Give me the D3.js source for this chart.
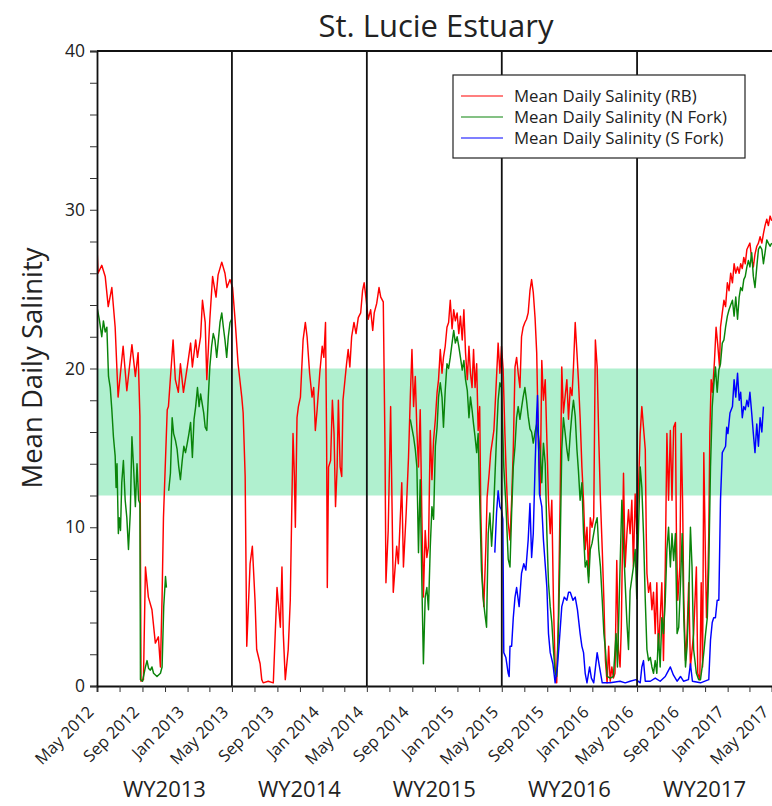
<!DOCTYPE html>
<html><head><meta charset="utf-8">
<script src="https://cdn.jsdelivr.net/npm/d3@7"></script>
<style>
body{margin:0;background:#fff}
svg{display:block}
text{font-family:"Open Sans",Lato,"DejaVu Sans",sans-serif;fill:#222}
</style>
</head><body>
<svg id="chart" width="772" height="806"></svg>
<script>
// ---- data (decimal year, month based; value = mean daily salinity) ----
const title = "St. Lucie Estuary";
const yLabel = "Mean Daily Salinity";
const seriesNames = ["Mean Daily Salinity (RB)", "Mean Daily Salinity (N Fork)", "Mean Daily Salinity (S Fork)"];
const seriesColors = ["#ff0000", "#0a840a", "#0000ff"];
const waterYears = ["WY2013", "WY2014", "WY2015", "WY2016", "WY2017"];
const wyBoundaries = ["2012-05-01", "2013-05-01", "2014-05-01", "2015-05-01", "2016-05-01", "2017-05-01"];
const targetBand = [12, 20];
const yDomain = [0, 40];
const yTickValues = [0, 2, 4, 6, 8, 10, 12, 14, 16, 18, 20, 22, 24, 26, 28, 30, 32, 34, 36, 38, 40];
const yTickLabels = [0, 10, 20, 30, 40];
const xDomain = ["2012-05-01", "2017-05-01"];

const rb = [
[2012.333,27.7],[2012.341,26.0],[2012.368,26.5],[2012.393,25.8],[2012.415,23.9],[2012.442,25.1],[2012.467,22.6],[2012.489,18.2],[2012.526,21.4],[2012.553,18.6],[2012.590,21.5],[2012.615,19.5],[2012.635,21.0],[2012.648,17.0],[2012.656,0.3],[2012.674,0.4],[2012.689,7.5],[2012.711,5.6],[2012.738,4.8],[2012.763,2.7],[2012.785,3.1],[2012.800,1.2],[2012.812,5.6],[2012.822,10.6],[2012.850,17.4],[2012.859,17.6],[2012.894,21.8],[2012.911,19.3],[2012.933,18.5],[2012.948,20.3],[2012.970,18.5],[2012.998,20.1],[2013.022,21.6],[2013.035,20.1],[2013.059,21.8],[2013.072,20.7],[2013.096,22.0],[2013.111,24.3],[2013.133,22.9],[2013.146,19.3],[2013.170,23.1],[2013.190,25.8],[2013.215,24.5],[2013.230,25.9],[2013.257,26.7],[2013.281,26.0],[2013.296,25.1],[2013.319,25.6],
[2013.338,25.1],[2013.356,23.1],[2013.378,20.3],[2013.405,18.2],[2013.415,17.2],[2013.430,13.2],[2013.442,2.5],[2013.467,7.7],[2013.484,8.8],[2013.504,5.4],[2013.516,2.3],[2013.541,1.4],[2013.553,0.4],[2013.563,0.2],[2013.600,0.3],[2013.637,0.2],[2013.664,6.2],[2013.689,3.7],[2013.701,7.5],[2013.711,3.3],[2013.726,0.4],[2013.748,2.3],[2013.763,5.4],[2013.783,15.9],[2013.793,13.2],[2013.800,10.0],[2013.812,16.9],[2013.822,17.6],[2013.837,18.2],[2013.857,21.8],[2013.874,22.9],[2013.887,22.0],[2013.906,19.7],[2013.924,18.2],[2013.936,18.8],[2013.948,16.1],[2013.961,17.4],[2013.980,19.7],[2013.998,21.4],[2014.010,20.7],[2014.022,22.9],[2014.030,15.5],[2014.035,6.2],[2014.044,13.8],[2014.059,14.2],[2014.072,18.0],[2014.084,15.9],[2014.096,11.3],[2014.109,13.8],[2014.119,18.0],[2014.133,13.8],[2014.146,13.2],[2014.156,18.0],[2014.183,20.3],[2014.195,21.2],[2014.207,20.1],[2014.220,22.0],[2014.237,22.9],[2014.252,22.2],[2014.269,23.2],[2014.287,23.5],[2014.301,24.9],[2014.313,25.4],[2014.326,24.5],
[2014.343,23.1],[2014.361,23.7],[2014.376,22.4],[2014.387,23.5],[2014.405,24.1],[2014.422,25.1],[2014.435,24.5],[2014.454,24.2],[2014.467,15.0],[2014.474,6.5],[2014.491,9.8],[2014.509,17.6],[2014.528,5.9],[2014.553,8.8],[2014.565,7.7],[2014.590,12.8],[2014.602,7.5],[2014.622,10.9],[2014.639,14.4],[2014.652,18.2],[2014.664,21.2],[2014.676,17.6],[2014.689,19.5],[2014.701,16.1],[2014.713,13.8],[2014.726,17.4],[2014.738,10.9],[2014.750,5.6],[2014.763,9.8],[2014.775,8.1],[2014.787,8.8],[2014.800,16.1],[2014.812,13.0],[2014.824,15.5],[2014.837,16.8],[2014.850,18.5],[2014.861,19.3],[2014.874,21.2],[2014.887,19.7],[2014.898,20.7],[2014.911,21.4],[2014.924,22.6],[2014.936,22.9],[2014.948,24.3],[2014.961,22.5],[2014.973,23.7],[2014.985,23.0],[2014.998,23.5],[2015.010,22.2],[2015.022,23.3],[2015.035,21.8],[2015.047,23.7],[2015.059,21.0],[2015.072,19.3],[2015.084,21.4],[2015.096,19.7],[2015.109,18.8],[2015.121,21.2],[2015.133,18.8],[2015.146,20.3],[2015.158,16.1],[2015.170,17.6],[2015.178,11.0],[2015.190,6.7],[2015.200,5.0],[2015.215,8.8],[2015.224,11.9],[2015.239,13.4],[2015.250,14.7],[2015.264,15.5],[2015.274,16.1],[2015.289,18.6],[2015.306,21.6],[2015.319,19.7],[2015.331,21.4],
[2015.343,20.0],[2015.356,15.9],[2015.368,12.8],[2015.380,10.3],[2015.393,9.2],[2015.405,11.7],[2015.417,14.9],[2015.430,20.1],[2015.442,20.7],[2015.454,19.7],[2015.467,18.8],[2015.479,22.0],[2015.491,22.6],[2015.504,22.9],[2015.516,23.1],[2015.528,23.5],[2015.541,24.9],[2015.553,25.6],[2015.565,24.8],[2015.578,23.2],[2015.590,21.0],[2015.602,15.5],[2015.615,12.0],[2015.627,20.5],[2015.639,18.0],[2015.652,19.3],[2015.664,15.5],[2015.676,11.7],[2015.689,9.6],[2015.701,11.7],[2015.713,5.4],[2015.726,1.2],[2015.738,0.2],[2015.750,4.3],[2015.763,11.7],[2015.775,20.1],[2015.787,17.2],[2015.800,18.3],[2015.812,19.3],[2015.824,16.8],[2015.837,18.8],[2015.850,18.3],[2015.861,20.1],[2015.874,22.9],[2015.887,21.0],[2015.898,19.3],[2015.911,16.9],[2015.924,13.8],[2015.936,11.7],[2015.948,8.6],[2015.961,10.0],[2015.973,6.9],[2015.985,10.6],[2015.998,10.0],[2016.010,10.6],[2016.022,21.8],[2016.035,20.1],[2016.047,15.5],[2016.059,11.7],[2016.072,8.6],[2016.084,5.4],[2016.096,1.6],[2016.109,0.2],[2016.121,2.5],[2016.133,0.3],[2016.146,1.2],[2016.158,0.5],[2016.170,0.8],[2016.183,7.9],[2016.195,2.3],[2016.207,1.2],[2016.216,3.7],[2016.232,13.4],[2016.244,7.5],[2016.257,9.6],[2016.269,11.1],[2016.281,9.6],[2016.294,11.7],[2016.306,7.5],[2016.319,12.1],[2016.331,9.6],
[2016.343,12.3],[2016.356,15.9],[2016.368,17.6],[2016.380,16.3],[2016.393,14.9],[2016.400,9.6],[2016.405,7.1],[2016.417,5.9],[2016.430,6.5],[2016.442,4.8],[2016.454,5.9],[2016.467,3.3],[2016.479,6.5],[2016.491,2.3],[2016.504,4.3],[2016.516,6.5],[2016.528,1.6],[2016.541,7.5],[2016.553,15.9],[2016.565,11.7],[2016.578,16.1],[2016.590,11.7],[2016.602,16.3],[2016.615,16.6],[2016.622,9.6],[2016.632,5.4],[2016.647,7.5],[2016.657,15.9],[2016.667,11.7],[2016.676,5.4],[2016.689,1.6],[2016.701,3.3],[2016.713,6.5],[2016.726,1.2],[2016.750,3.3],[2016.770,7.5],[2016.780,0.8],[2016.795,0.4],[2016.805,6.5],[2016.815,1.2],[2016.824,14.7],[2016.837,7.5],[2016.844,4.3],[2016.852,6.0],[2016.861,9.6],[2016.869,15.9],[2016.879,19.3],[2016.889,18.5],[2016.904,20.5],[2016.916,22.6],[2016.928,21.5],[2016.941,20.1],[2016.948,22.6],[2016.961,23.5],[2016.973,24.3],[2016.985,23.9],[2016.998,25.4],[2017.010,24.9],[2017.022,26.0],[2017.035,25.4],[2017.047,26.6],[2017.059,26.0],[2017.072,26.4],[2017.084,26.0],[2017.096,26.6],[2017.109,26.3],[2017.121,27.0],[2017.133,26.6],[2017.146,27.5],[2017.158,27.7],[2017.170,27.9],[2017.183,26.9],[2017.195,26.4],[2017.207,27.2],[2017.220,27.7],[2017.232,27.9],[2017.244,28.3],[2017.257,27.9],[2017.269,28.5],[2017.281,29.0],[2017.294,29.4],[2017.306,29.0],[2017.319,29.6],[2017.331,29.3]
];

const nFork = [
[2012.333,23.9],[2012.350,23.1],[2012.368,22.0],[2012.380,23.0],[2012.393,22.3],[2012.405,22.6],[2012.417,19.5],[2012.430,18.8],[2012.442,17.4],[2012.454,15.7],[2012.467,14.5],[2012.474,12.5],[2012.481,14.0],[2012.491,9.6],[2012.498,10.6],[2012.507,9.8],[2012.516,12.8],[2012.528,14.2],[2012.541,11.7],[2012.553,10.6],[2012.565,8.6],[2012.578,10.9],[2012.590,15.7],[2012.602,13.8],[2012.615,11.3],[2012.627,14.0],[2012.639,11.7],[2012.648,11.5],[2012.652,0.4],[2012.667,0.3],[2012.689,1.2],[2012.701,1.6],[2012.713,1.1],[2012.726,1.0],[2012.738,1.2],[2012.750,0.8],[2012.775,0.6],[2012.800,0.8],[2012.812,1.2],[2012.824,5.0],[2012.837,6.9],[2012.844,6.2],
[2012.852,null],
[2012.861,12.3],[2012.874,13.4],[2012.887,16.9],[2012.898,15.9],[2012.911,15.5],[2012.924,14.9],[2012.936,13.8],[2012.948,13.0],[2012.961,14.2],[2012.973,15.1],[2012.985,14.7],[2012.998,15.3],[2013.010,15.9],[2013.022,16.6],[2013.035,14.4],[2013.047,16.8],[2013.059,17.6],[2013.072,18.8],[2013.084,17.6],[2013.096,18.4],[2013.121,17.2],[2013.133,16.3],[2013.146,16.1],[2013.158,18.2],[2013.170,20.1],[2013.183,21.4],[2013.195,22.2],[2013.207,21.8],[2013.220,20.7],[2013.232,21.8],[2013.244,22.9],[2013.257,23.5],[2013.269,22.6],[2013.281,21.8],[2013.294,20.7],[2013.306,22.0],[2013.319,22.9],[2013.331,23.1],
[2013.5,null],
[2014.652,16.8],[2014.676,15.7],[2014.689,14.9],[2014.701,13.8],[2014.713,8.4],[2014.726,13.0],[2014.738,6.7],[2014.750,1.4],[2014.763,5.6],[2014.775,6.2],[2014.787,4.8],[2014.800,8.8],[2014.812,11.3],[2014.824,10.5],[2014.837,15.1],[2014.850,16.3],[2014.861,18.2],[2014.874,19.1],[2014.887,18.2],[2014.898,16.3],[2014.911,18.6],[2014.924,20.3],[2014.936,20.0],[2014.948,20.7],[2014.961,21.6],[2014.973,22.4],[2014.985,21.6],[2014.998,22.0],[2015.010,21.4],[2015.022,20.7],[2015.035,19.9],[2015.047,20.5],[2015.059,19.3],[2015.072,18.6],[2015.084,16.9],[2015.096,18.2],[2015.109,17.4],[2015.121,16.5],[2015.133,15.7],[2015.146,14.7],[2015.158,15.9],[2015.170,11.9],[2015.183,7.3],[2015.195,5.6],[2015.207,4.6],[2015.220,3.7],[2015.232,9.6],[2015.244,10.9],[2015.257,8.8],[2015.269,10.5],[2015.281,13.0],[2015.294,15.7],[2015.306,18.0],[2015.319,19.1],[2015.331,18.8],
[2015.348,13.8],[2015.363,11.5],[2015.380,8.0],[2015.393,7.5],[2015.405,10.9],[2015.417,13.8],[2015.430,15.1],[2015.442,16.9],[2015.454,17.6],[2015.467,16.8],[2015.479,17.5],[2015.491,18.2],[2015.504,18.8],[2015.516,18.0],[2015.528,17.0],[2015.541,16.2],[2015.553,16.0],[2015.565,15.3],[2015.578,16.0],[2015.590,16.5],[2015.602,15.8],[2015.615,14.8],[2015.627,12.8],[2015.639,15.3],[2015.652,14.0],[2015.664,9.6],[2015.676,6.5],[2015.689,5.0],[2015.701,4.0],[2015.713,2.3],[2015.726,0.8],[2015.738,0.6],[2015.750,3.3],[2015.763,8.6],[2015.775,14.9],[2015.787,16.9],[2015.800,15.9],[2015.812,14.9],[2015.824,14.2],[2015.837,15.9],[2015.850,17.2],[2015.861,18.0],[2015.874,17.0],[2015.887,14.9],[2015.898,13.6],[2015.911,11.7],[2015.924,12.8],[2015.936,9.6],[2015.948,7.5],[2015.961,7.9],[2015.973,6.5],[2015.985,8.6],[2015.998,9.0],[2016.010,9.6],[2016.022,10.2],[2016.035,10.6],[2016.047,8.6],[2016.059,7.5],[2016.072,5.4],[2016.084,3.3],[2016.096,2.3],[2016.109,0.6],[2016.133,0.5],[2016.158,0.6],[2016.178,3.3],[2016.188,1.2],[2016.207,7.5],[2016.220,11.7],[2016.232,9.0],[2016.244,6.5],[2016.257,4.0],[2016.269,2.3],[2016.281,6.0],[2016.306,7.5],[2016.319,8.6],[2016.331,5.5],
[2016.343,9.6],[2016.356,13.8],[2016.368,12.5],[2016.380,9.6],[2016.393,5.4],[2016.405,2.3],[2016.417,1.6],[2016.430,1.8],[2016.442,1.2],[2016.454,0.8],[2016.467,1.6],[2016.479,0.8],[2016.491,3.3],[2016.504,1.2],[2016.516,4.3],[2016.528,3.3],[2016.541,5.4],[2016.553,8.6],[2016.565,10.0],[2016.578,7.5],[2016.590,9.6],[2016.602,7.9],[2016.615,9.6],[2016.627,3.3],[2016.639,3.7],[2016.652,6.5],[2016.664,9.6],[2016.676,4.3],[2016.689,1.2],[2016.701,2.5],[2016.713,5.4],[2016.726,10.0],[2016.738,7.5],[2016.750,2.3],[2016.770,0.8],[2016.787,0.4],[2016.800,0.4],[2016.812,1.2],[2016.824,2.1],[2016.837,3.3],[2016.850,4.3],[2016.861,7.5],[2016.874,13.8],[2016.887,17.6],[2016.898,18.9],[2016.911,20.1],[2016.924,18.5],[2016.936,19.9],[2016.948,20.3],[2016.961,21.6],[2016.973,21.8],[2016.985,22.6],[2016.998,23.3],[2017.010,23.7],[2017.022,24.0],[2017.035,24.3],[2017.047,23.3],[2017.059,24.5],[2017.072,23.1],[2017.084,24.5],[2017.096,25.1],[2017.109,24.9],[2017.121,25.6],[2017.133,25.8],[2017.146,26.4],[2017.158,26.8],[2017.170,26.4],[2017.183,27.3],[2017.195,25.8],[2017.207,25.1],[2017.220,26.4],[2017.232,27.5],[2017.244,27.7],[2017.257,27.5],[2017.269,26.6],[2017.281,27.3],[2017.294,28.1],[2017.306,27.9],[2017.319,27.7],[2017.331,27.9]
];

const sFork = [
[2015.281,8.4],[2015.294,10.9],[2015.306,12.3],[2015.319,11.3],[2015.331,11.1],[2015.341,10.5],[2015.348,2.1],[2015.363,1.8],[2015.380,0.8],[2015.387,0.6],[2015.393,2.5],[2015.405,2.5],[2015.417,4.3],[2015.430,5.6],[2015.442,6.2],[2015.461,5.0],[2015.479,7.1],[2015.496,7.7],[2015.511,7.3],[2015.528,9.2],[2015.541,11.5],[2015.553,8.1],[2015.565,9.6],[2015.578,13.8],[2015.590,17.2],[2015.596,18.3],[2015.602,16.0],[2015.610,12.1],[2015.627,11.3],[2015.639,9.2],[2015.664,6.2],[2015.676,3.3],[2015.689,2.1],[2015.709,1.4],[2015.726,0.2],[2015.743,1.2],[2015.758,2.9],[2015.775,5.0],[2015.793,5.6],[2015.812,5.4],[2015.824,5.9],[2015.837,5.9],[2015.857,5.4],[2015.874,5.6],[2015.891,4.8],[2015.911,3.3],[2015.924,2.5],[2015.936,2.1],[2015.948,0.8],[2015.961,0.2],[2015.980,1.2],[2015.993,0.5],[2016.010,0.2],[2016.035,2.1],[2016.052,1.2],[2016.072,0.2],[2016.133,0.2],[2016.207,0.3],[2016.244,0.2],[2016.281,0.3],[2016.326,0.4],
[2016.356,0.2],[2016.368,1.2],[2016.380,1.6],[2016.393,0.3],[2016.430,0.3],[2016.467,0.5],[2016.504,0.3],[2016.541,0.6],[2016.553,0.8],[2016.578,1.2],[2016.600,0.7],[2016.627,0.3],[2016.652,0.6],[2016.674,0.3],[2016.711,0.4],[2016.726,1.4],[2016.741,0.3],[2016.800,0.2],[2016.861,0.4],[2016.874,2.9],[2016.887,4.0],[2016.898,4.3],[2016.911,4.3],[2016.924,5.4],[2016.936,5.4],[2016.948,11.7],[2016.961,14.7],[2016.973,14.9],[2016.985,15.1],[2016.993,16.3],[2017.002,15.9],[2017.017,17.2],[2017.035,17.6],[2017.047,19.3],[2017.059,18.2],[2017.072,19.7],[2017.084,18.0],[2017.096,18.5],[2017.109,16.9],[2017.121,17.6],[2017.133,17.4],[2017.146,18.0],[2017.158,17.6],[2017.170,18.5],[2017.183,17.2],[2017.195,15.9],[2017.207,14.7],[2017.220,16.5],[2017.232,15.1],[2017.244,16.9],[2017.257,16.0],[2017.269,17.6]
];

// ---- helpers ----
function toDate(t) {
  const yr = Math.floor(t);
  const m = (t - yr) * 12 + 1e-6;
  const mi = Math.floor(m);
  const dim = new Date(Date.UTC(yr, mi + 1, 0)).getUTCDate();
  return new Date(Date.UTC(yr, mi, 1) + (m - mi) * dim * 864e5);
}
const parse = d3.utcParse("%Y-%m-%d");

// ---- layout ----
const svg = d3.select("#chart");
const L = 97, R = 772, T = 51, B = 686;
const x = d3.scaleUtc().domain(xDomain.map(parse)).range([L, R]);
const y = d3.scaleLinear().domain(yDomain).range([B, T]);

svg.append("defs").append("clipPath").attr("id", "plotclip")
  .append("rect").attr("x", L).attr("y", T - 2).attr("width", R - L).attr("height", B - T + 4);

// target band
svg.append("rect")
  .attr("x", L).attr("width", R - L)
  .attr("y", y(targetBand[1])).attr("height", y(targetBand[0]) - y(targetBand[1]))
  .attr("fill", "#b0f0cf");

// series
const allSeries = [rb, nFork, sFork];
const plot = svg.append("g").attr("clip-path", "url(#plotclip)");
const line = d3.line()
  .defined(d => d[1] !== null)
  .x(d => x(toDate(d[0])))
  .y(d => y(d[1]));
allSeries.forEach((s, i) => {
  plot.append("path").datum(s)
    .attr("fill", "none")
    .attr("stroke", seriesColors[i])
    .attr("stroke-width", 1.45)
    .attr("stroke-linejoin", "round")
    .attr("d", line);
});

// water-year boundary lines
svg.append("g").selectAll("line").data(wyBoundaries.slice(1, 5)).join("line")
  .attr("x1", d => x(parse(d))).attr("x2", d => x(parse(d)))
  .attr("y1", T).attr("y2", B)
  .attr("stroke", "#111").attr("stroke-width", 1.8);

// top border
svg.append("line").attr("x1", L).attr("x2", R).attr("y1", T).attr("y2", T)
  .attr("stroke", "#111").attr("stroke-width", 1.8);

// x axis
const xAxis = d3.axisBottom(x)
  .ticks(d3.utcMonth.every(2))
  .tickSize(6)
  .tickFormat(d => [0, 4, 8].includes(d.getUTCMonth()) ? d3.utcFormat("%b %Y")(d) : "");
const gx = svg.append("g").attr("transform", `translate(0,${B})`).call(xAxis);
gx.select(".domain").attr("stroke", "#111").attr("stroke-width", 1.8);
gx.selectAll(".tick line").attr("stroke", "#333");
gx.selectAll(".tick text")
  .attr("x", 0).attr("y", 0).attr("dy", "0.35em")
  .attr("text-anchor", "end")
  .attr("transform", "translate(-7,23) rotate(-45)")
  .style("font-size", "16.5px").style("font-family", "'Open Sans', sans-serif").attr("fill", "#222");

// y axis
const yAxis = d3.axisLeft(y)
  .tickValues(yTickValues)
  .tickSize(7)
  .tickFormat(d => yTickLabels.includes(d) ? d : "");
const gy = svg.append("g").attr("transform", `translate(${L},0)`).call(yAxis);
gy.select(".domain").attr("stroke", "#111").attr("stroke-width", 1.8);
gy.selectAll(".tick line").attr("stroke", "#333");
gy.selectAll(".tick text").attr("x", -12)
  .style("font-size", "17.5px").style("font-family", "'Open Sans', sans-serif").attr("fill", "#222");

// water-year labels
svg.append("g").selectAll("text").data(waterYears).join("text")
  .attr("x", (d, i) => (x(parse(wyBoundaries[i])) + x(parse(wyBoundaries[i + 1]))) / 2)
  .attr("y", 797)
  .attr("text-anchor", "middle")
  .style("font-size", "22px")
  .text(d => d);

// title
svg.append("text").attr("x", 436).attr("y", 37).attr("text-anchor", "middle")
  .style("font-size", "31px").text(title);

// y label
svg.append("text").attr("transform", "translate(42,368) rotate(-90)")
  .attr("text-anchor", "middle").style("font-size", "27.5px").text(yLabel);

// legend
const lg = svg.append("g").attr("transform", "translate(453,75)");
lg.append("rect").attr("width", 292).attr("height", 83)
  .attr("fill", "#fff").attr("stroke", "#222").attr("stroke-width", 1.2);
seriesNames.forEach((n, i) => {
  const yy = 21 + i * 21;
  lg.append("line").attr("x1", 8).attr("x2", 50).attr("y1", yy).attr("y2", yy)
    .attr("stroke", seriesColors[i]).attr("stroke-width", 1.2);
  lg.append("text").attr("x", 61).attr("y", yy).attr("dy", "0.35em")
    .style("font-size", "16.8px").text(n);
});
</script>
</body></html>
